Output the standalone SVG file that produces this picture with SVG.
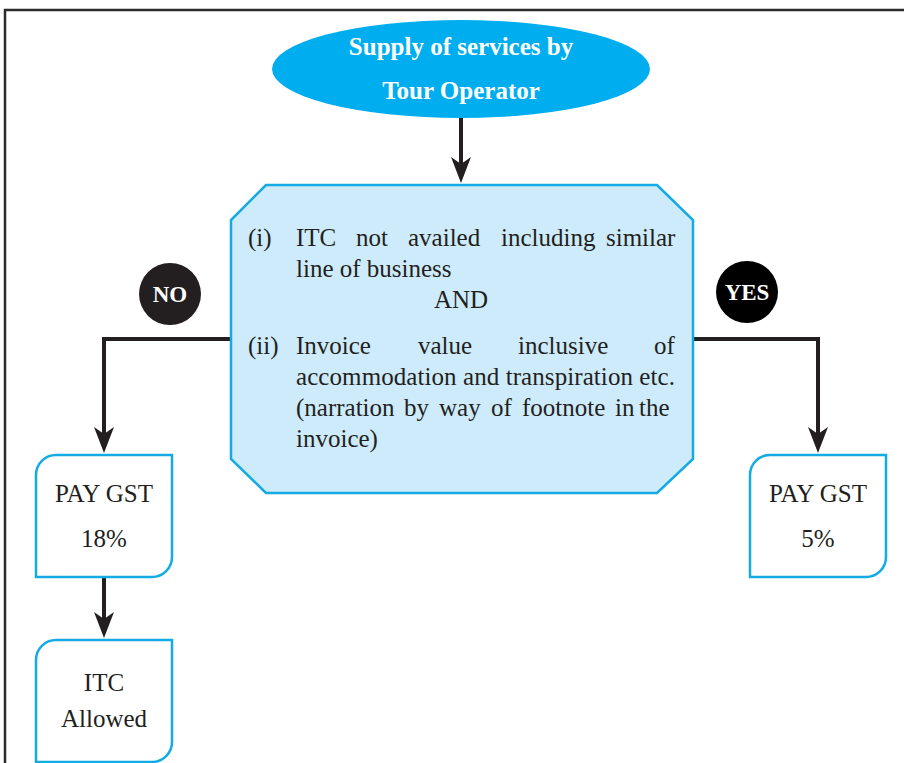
<svg xmlns="http://www.w3.org/2000/svg" width="904" height="763" viewBox="0 0 904 763">
<style>
.frame{fill:none;stroke:#2b2b2b;stroke-width:2.5}
.box{fill:#fff;stroke:#14aae4;stroke-width:2.5}
.oct{fill:#cdebfa;stroke:#14aae4;stroke-width:2.5}
.conn{fill:none;stroke:#231f20;stroke-width:4;stroke-linejoin:miter}
text{font-family:'Liberation Serif','Times New Roman','DejaVu Serif',serif}
.t{font-size:25px;fill:#231f20}
.tb{font-size:25px;font-weight:bold;fill:#fff}
.lbl{font-size:23px;font-weight:bold;fill:#fff}
.mid{text-anchor:middle}
</style>
<defs>
<marker id="arr" markerUnits="userSpaceOnUse" markerWidth="30" markerHeight="24" viewBox="0 -12 28 24" refX="16" refY="0" orient="auto">
<path d="M0,-10 L26,0 L0,10 L7,0 Z" fill="#231f20"/>
</marker>
</defs>
<rect class="frame" x="5" y="10" width="1000" height="1000"/>
<g id="connectors">
<path class="conn" d="M461,118 V173" marker-end="url(#arr)"/>
<path class="conn" d="M231,339 H104 V443" marker-end="url(#arr)"/>
<path class="conn" d="M693,339 H818 V443" marker-end="url(#arr)"/>
<path class="conn" d="M104,577 V628" marker-end="url(#arr)"/>
</g>
<g font-family="Liberation Serif, serif">
<g id="start">
<ellipse cx="461" cy="69" rx="189" ry="49" fill="#00aeef"/>
<text class="tb mid" x="461" y="55">Supply of services by</text>
<text class="tb mid" x="461" y="99">Tour Operator</text>
</g>
<g id="condition">
<polygon class="oct" points="266,185 657,185 693,220 693,459 657,493 266,493 231,459 231,220"/>
<text class="t" x="248" y="246">(i)</text>
<text class="t" y="246"><tspan x="296">ITC</tspan><tspan x="356">not</tspan><tspan x="408">availed</tspan><tspan x="501">including</tspan><tspan x="606">similar</tspan></text>
<text class="t" x="296" y="277">line of business</text>
<text class="t mid" x="461" y="308">AND</text>
<text class="t" x="248" y="354">(ii)</text>
<text class="t" y="354"><tspan x="296">Invoice</tspan><tspan x="418">value</tspan><tspan x="518">inclusive</tspan><tspan x="654">of</tspan></text>
<text class="t" x="296" y="385" textLength="379" lengthAdjust="spacing">accommodation and transpiration etc.</text>
<text class="t" y="416"><tspan x="296">(narration</tspan><tspan x="404">by</tspan><tspan x="439">way</tspan><tspan x="491">of</tspan><tspan x="522">footnote</tspan><tspan x="615">in</tspan><tspan x="639">the</tspan></text>
<text class="t" x="296" y="447">invoice)</text>
</g>
<g id="no-label">
<circle cx="170" cy="294" r="31" fill="#231f20"/>
<text class="lbl mid" x="170" y="302">NO</text>
</g>
<g id="yes-label">
<circle cx="747" cy="292" r="31" fill="#000"/>
<text class="lbl mid" x="747" y="300">YES</text>
</g>
<g id="pay18">
<path class="box" d="M56,455 H172 V557 A20,20 0 0 1 152,577 H36 V475 A20,20 0 0 1 56,455 Z"/>
<text class="t mid" x="104" y="502">PAY GST</text>
<text class="t mid" x="104" y="547">18%</text>
</g>
<g id="pay5">
<path class="box" d="M770,455 H886 V557 A20,20 0 0 1 866,577 H750 V475 A20,20 0 0 1 770,455 Z"/>
<text class="t mid" x="818" y="502">PAY GST</text>
<text class="t mid" x="818" y="547">5%</text>
</g>
<g id="itc">
<path class="box" d="M56,640 H172 V742 A20,20 0 0 1 152,762 H36 V660 A20,20 0 0 1 56,640 Z"/>
<text class="t mid" x="104" y="691">ITC</text>
<text class="t mid" x="104" y="727">Allowed</text>
</g>
</g>
</svg>
